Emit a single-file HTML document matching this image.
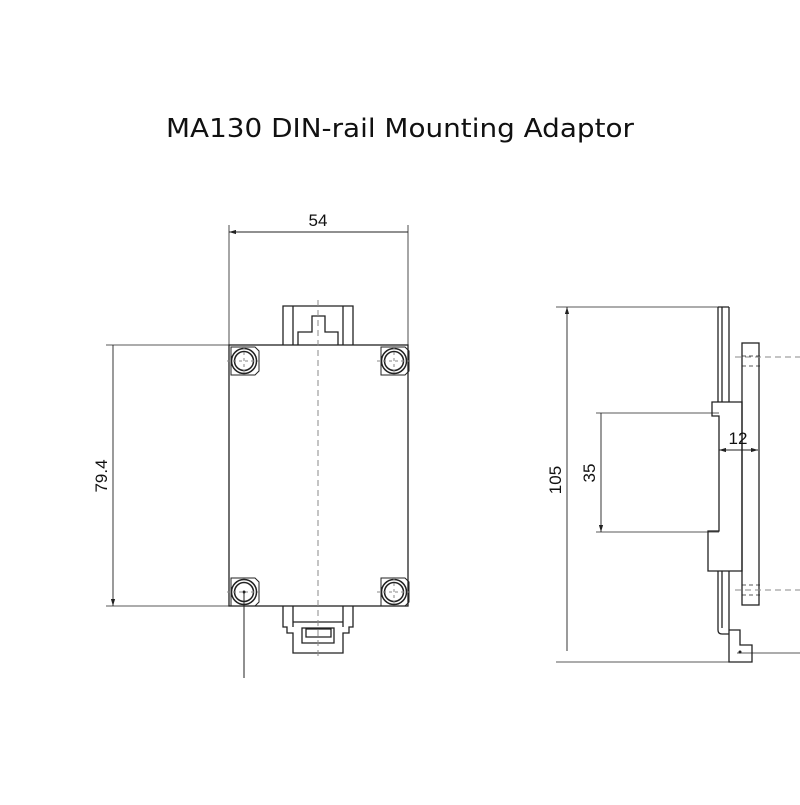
<!DOCTYPE html><html><head><style>body{margin:0;background:#fff}</style></head><body>
<svg width="800" height="800" xmlns="http://www.w3.org/2000/svg" font-family="Liberation Sans, sans-serif">
<defs><marker id="a" viewBox="0 0 10 6" refX="10" refY="3" markerWidth="8" markerHeight="5" orient="auto-start-reverse"><path d="M0,0L10,3L0,6z" fill="#222"/></marker></defs>
<text x="400" y="137" font-size="26" text-anchor="middle" fill="#111" font-family="DejaVu Sans, sans-serif" textLength="468" lengthAdjust="spacingAndGlyphs">MA130 DIN-rail Mounting Adaptor</text>
<g stroke="#222" stroke-width="1.3" fill="none">
<rect x="229" y="345" width="179" height="261"/>
<path d="M283,345V306H353V345M293,306V345M343,306V345M298,345V332H312V316H325V332H338V345"/>
<path d="M283,606V627H287V633H293V653H343V633H349V627H353V606M293,606V627M343,606V627M293,622H343M302,628H334V643H302ZM306,629H331V637H306Z"/>
<g id="b"><path d="M231,347H255L259,351V371L255,375H231Z" stroke-width="1"/><circle cx="244" cy="361" r="12.5" stroke-width="1.5"/><circle cx="244" cy="361" r="9.5" stroke-width="1.5"/></g>
<use href="#b" x="150"/><use href="#b" y="231"/><use href="#b" x="150" y="231"/>
<path d="M244,592V678" stroke-width="1"/>
<path d="M229,345V225M408,345V225M229,345H106M229,606H106" stroke-width="0.8"/>
<path d="M229,232H408M113,345V606" stroke-width="0.9" marker-start="url(#a)" marker-end="url(#a)"/>
<path d="M718,307V402M722,307V402M729,307H718M729,307V402"/>
<path d="M712,402H742V571H708V531H719V416H712Z"/>
<rect x="742" y="343" width="17" height="262"/>
<path d="M718,571V630Q718,634 722,634H729M722,571V628M729,571V630H740V645H752V662H729V630"/>
<path d="M730,662H556M722,307H556M719,413H596M719,532H596" stroke-width="0.8"/>
<path d="M567,307V651M601,413V532" stroke-width="0.9" marker-start="url(#a)" marker-end="url(#a)"/>
<path d="M719,450H758" stroke-width="0.9" marker-start="url(#a)" marker-end="url(#a)"/>
<path d="M742,349V430M742,458V600" stroke-width="0.8"/>
<path d="M742,356H760M742,366H760M742,585H760M742,595H760" stroke-dasharray="4,3" stroke-width="0.8"/>
<path d="M737,653H800" stroke-width="0.8"/>
</g>
<g stroke="#888" stroke-width="1" stroke-dasharray="6,4" fill="none">
<path d="M318,300V660M735,357H800M735,590H800"/>
<path d="M227,361H261M244,346V376M377,361H411M394,346V376M227,592H261M377,592H411M394,577V607" stroke-dasharray="3,3"/>
</g>
<circle cx="740" cy="652" r="1.5" fill="#222"/><circle cx="244" cy="592" r="1.5" fill="#222"/>
<g font-size="17" fill="#111">
<text x="318" y="226" text-anchor="middle">54</text>
<text transform="translate(107,476) rotate(-90)" text-anchor="middle">79.4</text>
<text transform="translate(561,480) rotate(-90)" text-anchor="middle">105</text>
<text transform="translate(595,473) rotate(-90)" text-anchor="middle">35</text>
<text x="738" y="444" text-anchor="middle">12</text>
</g>
</svg></body></html>
